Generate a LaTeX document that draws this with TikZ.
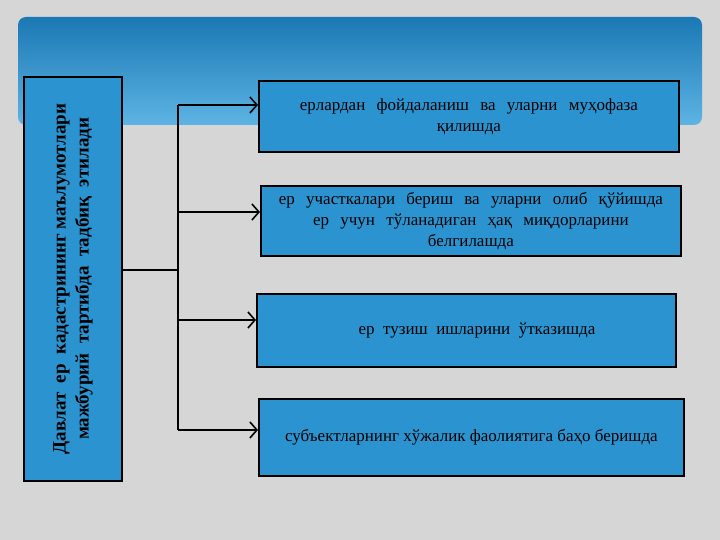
\documentclass[tikz,border=0pt]{standalone}
\usepackage{fontspec}
\setmainfont{Liberation Serif}
\usetikzlibrary{arrows.meta}
\definecolor{bg}{HTML}{D6D6D6}
\definecolor{boxb}{HTML}{2A93D0}
\definecolor{topb}{HTML}{1B78B4}
\definecolor{botb}{HTML}{5DB4E4}
\begin{document}
\begin{tikzpicture}[x=1pt,y=-1pt,
  box/.style={draw=black,line width=1.8pt,fill=boxb,align=center,font=\fontsize{17}{21}\selectfont,inner sep=2pt},
  arr/.style={line width=1.6pt,-{Straight Barb[length=7pt,width=16pt,line width=1.6pt]}}]
\fill[bg] (0,0) rectangle (720,540);
\useasboundingbox (0,0) rectangle (720,540);
\shade[top color=topb,bottom color=botb,rounded corners=8pt] (18,17) rectangle (702,125);
\node[box,minimum width=98pt,minimum height=404pt,anchor=north west] (L) at (23,76) {};
\node[rotate=90,align=center,font=\bfseries\fontsize{19}{23}\selectfont] (Lt) at (L.center) {Давлат\ \ ер\ \ кадастрининг маълумотлари\\мажбурий\ \ тартибда\ \ тадбиқ\ \ этилади};
\node[box,minimum width=420pt,minimum height=71pt,anchor=north west,text width=410pt] (b1) at (258,80) {ерлардан\ \ фойдаланиш\ \ ва\ \ уларни\ \ муҳофаза\\ қилишда};
\node[box,minimum width=420pt,minimum height=70pt,anchor=north west,text width=414pt] (b2) at (260,185) {ер\ \ участкалари\ \ бериш\ \ ва\ \ уларни\ \ олиб\ \ қўйишда\\ ер\ \ учун\ \ тўланадиган\ \ ҳақ\ \ миқдорларини\\ белгилашда};
\node[box,minimum width=419pt,minimum height=73pt,anchor=north west] (b3) at (256,293) {\ \ \ \ \ ер\ \ тузиш\ \ ишларини\ \ ўтказишда};
\node[box,minimum width=425pt,minimum height=77pt,anchor=north west] (b4) at (258,398) {субъектларнинг хўжалик фаолиятига баҳо беришда};
\coordinate (j) at (178,270);
\draw[line width=1.6pt] (L.east |- j) -- (j);
\draw[line width=1.6pt] (178,105) -- (178,430);
\draw[arr] (178,105) -- (b1.west |- 0,105);
\draw[arr] (178,212) -- (b2.west |- 0,212);
\draw[arr] (178,320) -- (b3.west |- 0,320);
\draw[arr] (178,430) -- (b4.west |- 0,430);
\end{tikzpicture}
\end{document}
